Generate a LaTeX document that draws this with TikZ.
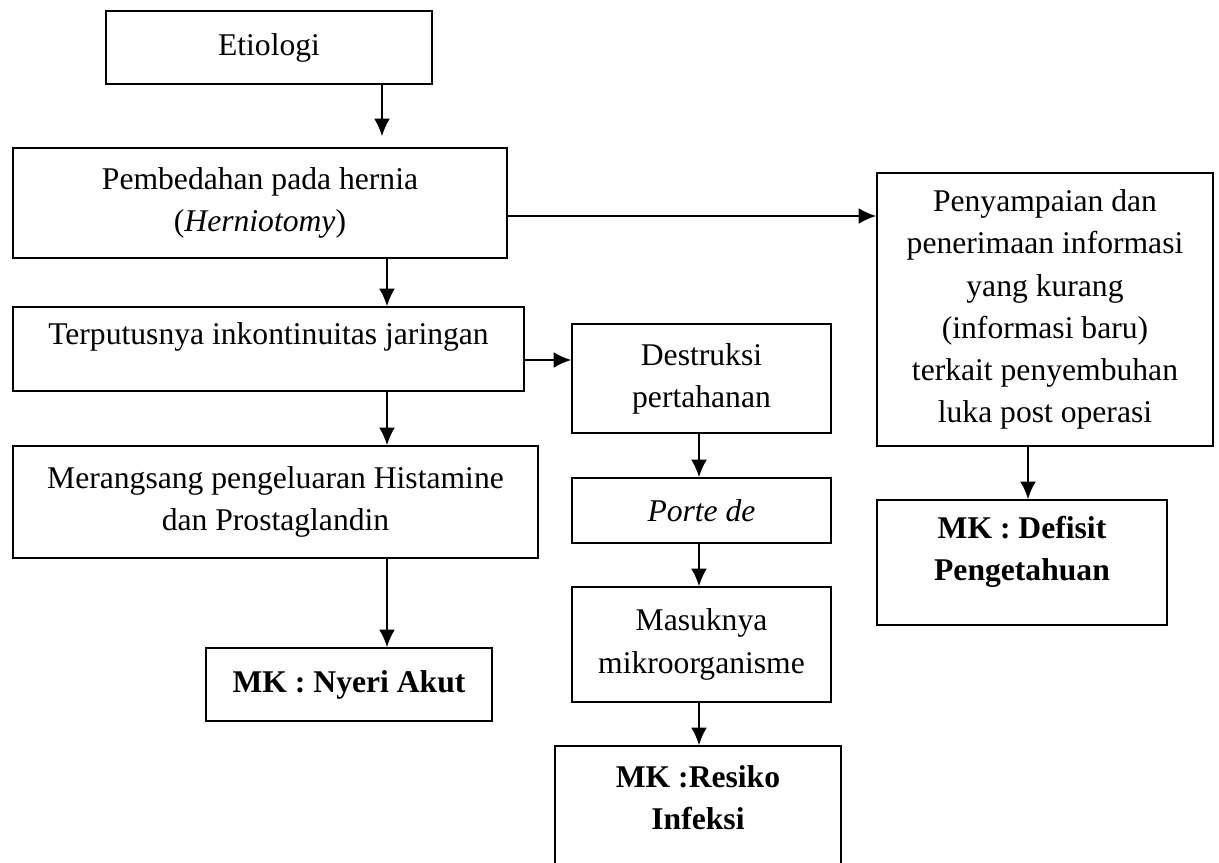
\documentclass[tikz,border=0pt]{standalone}
\usepackage{fontspec}
\setmainfont{Liberation Serif}
\usetikzlibrary{arrows.meta}

\tikzset{
  box/.style={draw, line width=0.9pt, align=center, inner sep=2pt,
    font={\fontsize{18}{24}\selectfont}},
  arr/.style={-{Latex[length=10pt,width=9pt]}, line width=1.1pt},
}

\begin{document}
\begin{tikzpicture}[x=0.02cm, y=-0.02cm]
  \useasboundingbox (0,0) rectangle (1219,862);
  \clip (0,0) rectangle (1219,862);

  % columns of the arrows
  \coordinate (c0) at (382,0);
  \coordinate (c1) at (387,0);
  \coordinate (c2) at (699,0);
  \coordinate (c3) at (1028,0);
  % rows of the arrows
  \coordinate (r1) at (0,216);
  \coordinate (r2) at (0,360);

  % left column
  \node[box, minimum width=6.52cm, minimum height=1.46cm] (etio) at (269,47.5) {Etiologi};
  \node[box, minimum width=9.88cm, minimum height=2.2cm] (pemb) at (260,203)
       {Pembedahan pada hernia\\(\textit{Herniotomy})};
  \node[box, minimum width=10.22cm, minimum height=1.68cm] (putus) at (268.5,349)
       {Terputusnya inkontinuitas jaringan\\[-6pt]~};
  \node[box, minimum width=10.5cm, minimum height=2.24cm] (rangsang) at (275.5,502)
       {Merangsang pengeluaran Histamine\\dan Prostaglandin};
  \node[box, minimum width=5.72cm, minimum height=1.46cm] (nyeri) at (349,684.5)
       {\textbf{MK : Nyeri Akut}};

  % middle column
  \node[box, minimum width=5.18cm, minimum height=2.18cm] (destr) at (701.5,378.5)
       {Destruksi\\pertahanan};
  \node[box, minimum width=5.18cm, minimum height=1.3cm] (porte) at (701.5,510.5)
       {\textit{Porte de}};
  \node[box, minimum width=5.18cm, minimum height=2.3cm] (masuk) at (701.5,644.5)
       {Masuknya\\mikroorganisme};
  \node[box, minimum width=5.72cm, minimum height=2.92cm] (resiko) at (698,819)
       {\textbf{MK :Resiko}\\\textbf{Infeksi}\\~};

  % right column
  \node[box, minimum width=6.72cm, minimum height=5.46cm] (info) at (1045,309.5)
       {Penyampaian dan\\penerimaan informasi\\yang kurang\\(informasi baru)\\terkait penyembuhan\\luka post operasi};
  \node[box, minimum width=5.8cm, minimum height=2.5cm] (defisit) at (1022,562.5)
       {\textbf{MK : Defisit}\\\textbf{Pengetahuan}\\[-8pt]~};

  % arrows
  \draw[arr, shorten >=0.22cm] (etio.south -| c0) -- (pemb.north -| c0);
  \draw[arr] (pemb.south -| c1) -- (putus.north -| c1);
  \draw[arr] (putus.south -| c1) -- (rangsang.north -| c1);
  \draw[arr] (rangsang.south -| c1) -- (nyeri.north -| c1);
  \draw[arr] (pemb.east |- r1) -- (info.west |- r1);
  \draw[arr] (putus.east |- r2) -- (destr.west |- r2);
  \draw[arr] (destr.south -| c2) -- (porte.north -| c2);
  \draw[arr] (porte.south -| c2) -- (masuk.north -| c2);
  \draw[arr] (masuk.south -| c2) -- (resiko.north -| c2);
  \draw[arr] (info.south -| c3) -- (defisit.north -| c3);
\end{tikzpicture}
\end{document}
